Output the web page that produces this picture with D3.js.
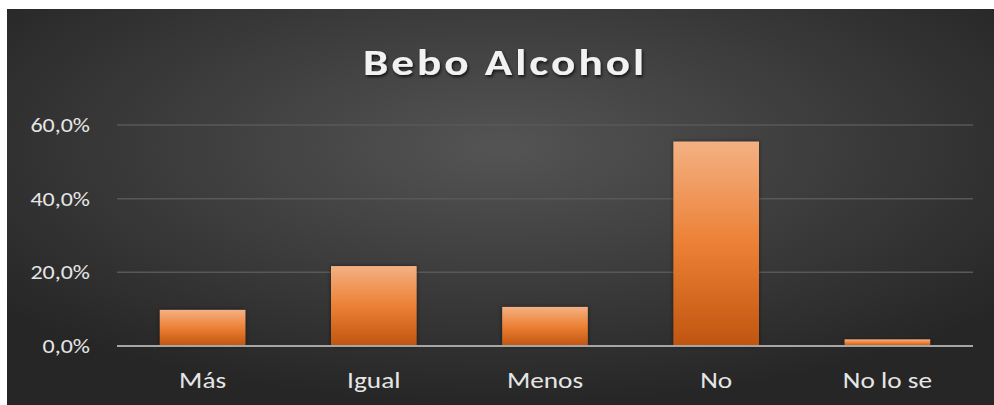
<!DOCTYPE html>
<html>
<head>
<meta charset="utf-8">
<script src="https://cdn.jsdelivr.net/npm/d3@7"></script>
<style>
  html, body { margin: 0; padding: 0; background: #ffffff; }
  svg { display: block; }
</style>
</head>
<body>
<script>
const categories = ["Más", "Igual", "Menos", "No", "No lo se"];
const values = [0.098, 0.217, 0.106, 0.555, 0.018];
const yTicks = [0, 0.2, 0.4, 0.6];
const title = "Bebo Alcohol";

const W = 994, H = 405;
const svg = d3.select("body").append("svg").attr("width", W).attr("height", H);
const defs = svg.append("defs");

const bg = defs.append("radialGradient").attr("id", "bg")
  .attr("cx", "50%").attr("cy", "35%").attr("r", "65%");
bg.append("stop").attr("offset", "0%").attr("stop-color", "#545454");
bg.append("stop").attr("offset", "100%").attr("stop-color", "#262626");

const bar = defs.append("linearGradient").attr("id", "bar")
  .attr("x1", 0).attr("y1", 0).attr("x2", 0).attr("y2", 1);
bar.append("stop").attr("offset", "0%").attr("stop-color", "#f4b183");
bar.append("stop").attr("offset", "50%").attr("stop-color", "#ec8035");
bar.append("stop").attr("offset", "100%").attr("stop-color", "#bf550f");

const sh = defs.append("filter").attr("id", "sh").attr("x", "-20%").attr("y", "-20%").attr("width", "140%").attr("height", "140%");
sh.append("feDropShadow").attr("dx", 0).attr("dy", 0).attr("stdDeviation", 2).attr("flood-color", "#000").attr("flood-opacity", 0.5);

const tsh = defs.append("filter").attr("id", "tsh").attr("x", "-10%").attr("y", "-30%").attr("width", "120%").attr("height", "160%");
tsh.append("feDropShadow").attr("dx", 1).attr("dy", 2).attr("stdDeviation", 1.5).attr("flood-color", "#000").attr("flood-opacity", 0.7);

svg.append("rect").attr("x", 7).attr("y", 9).attr("width", W - 7).attr("height", H - 9).attr("fill", "url(#bg)");

const font = "Carlito, Calibri, Lato, 'Open Sans', sans-serif";

const x = d3.scaleBand().domain(categories).range([117, 973]).paddingInner(0.5).paddingOuter(0.25);
const y = d3.scaleLinear().domain([0, 0.6]).range([346, 125]);

// gridlines
svg.append("g").selectAll("line").data(yTicks.filter(d => d > 0)).join("line")
  .attr("x1", 117).attr("x2", 973)
  .attr("y1", d => y(d)).attr("y2", d => y(d))
  .attr("stroke", "#585858").attr("stroke-width", 1.5);

// bars
svg.append("g").selectAll("rect").data(values).join("rect")
  .attr("x", (d, i) => x(categories[i]))
  .attr("width", x.bandwidth())
  .attr("y", d => y(d))
  .attr("height", d => y(0) - y(d))
  .attr("fill", "url(#bar)")
  .attr("filter", "url(#sh)");

// baseline
svg.append("line").attr("x1", 117).attr("x2", 973).attr("y1", y(0)).attr("y2", y(0))
  .attr("stroke", "#a6a6a6").attr("stroke-width", 2);

// y axis
const fmt = d => (d * 100).toFixed(1).replace(".", ",") + "%";
const yAxis = d3.axisLeft(y).tickValues(yTicks).tickFormat(fmt).tickSize(0).tickPadding(0);
const yg = svg.append("g").attr("transform", "translate(90,0)").call(yAxis);
yg.select(".domain").remove();
yg.selectAll("text").attr("fill", "#e6e6e6").style("font-family", font).style("font-size", "20px")
  .attr("transform", "scale(1.2,1)");

// x axis
const xAxis = d3.axisBottom(x).tickSize(0).tickPadding(0);
const xg = svg.append("g").attr("transform", "translate(0,372)").call(xAxis);
xg.select(".domain").remove();
xg.selectAll("text").attr("fill", "#e6e6e6").style("font-family", font).style("font-size", "22px")
  .attr("transform", "scale(1.24,1)");

// title
svg.append("g").attr("transform", "translate(505,75)")
  .append("text").attr("text-anchor", "middle").attr("transform", "scale(1.22,1)")
  .attr("fill", "#f2f2f2").attr("filter", "url(#tsh)")
  .style("font-family", font).style("font-size", "37px").style("font-weight", "bold")
  .style("letter-spacing", "2.5px")
  .text(title);
</script>
</body>
</html>
